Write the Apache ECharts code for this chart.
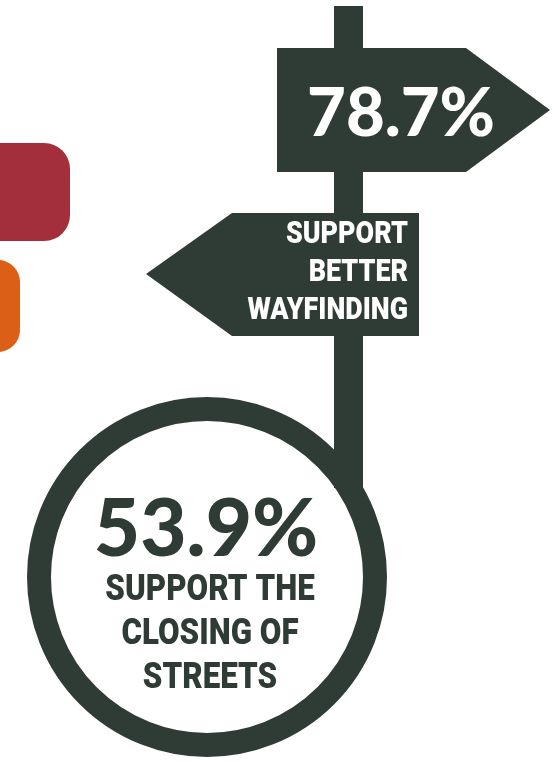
<!DOCTYPE html>
<html>
<head>
<meta charset="utf-8">
<script src="https://cdn.jsdelivr.net/npm/echarts@6/dist/echarts.min.js"></script>
<style>
  html, body { margin: 0; padding: 0; background: #ffffff; }
  #chart { width: 556px; height: 762px; }
</style>
</head>
<body>
<div id="chart"></div>
<script>
// Survey results shown on the signpost
const percentages = [78.7, 53.9];
const signCaptions = [
  ['SUPPORT', 'BETTER', 'WAYFINDING'],
  ['SUPPORT THE', 'CLOSING OF', 'STREETS']
];
const accentColors = ['#a22f39', '#db5f17'];

const INK = '#2f3c35';
const NUM_FONT = "Lato, 'Open Sans', sans-serif";
const CAP_FONT = "Roboto, 'Liberation Sans', sans-serif";

function fmt(v) { return v.toFixed(1) + '%'; }

const chart = echarts.init(document.getElementById('chart'), null, { renderer: 'canvas' });

const elements = [
  // accent tabs at the left edge
  { type: 'rect', shape: { x: -40, y: 143, width: 110, height: 98, r: 26 }, style: { fill: accentColors[0] } },
  { type: 'rect', shape: { x: -40, y: 260, width: 60, height: 92, r: 22 }, style: { fill: accentColors[1] } },
  // post
  { type: 'rect', shape: { x: 334, y: 6, width: 29, height: 482 }, style: { fill: INK } },
  // ring at the foot of the post
  { type: 'circle', shape: { cx: 207, cy: 577, r: 168 }, style: { fill: 'none', stroke: INK, lineWidth: 24 } },
  // right-pointing sign
  { type: 'polygon', shape: { points: [[277, 48], [466, 48], [550, 110], [466, 172], [277, 172]] }, style: { fill: INK } },
  // left-pointing sign
  { type: 'polygon', shape: { points: [[419, 213], [419, 336], [232, 336], [146, 274], [232, 213]] }, style: { fill: INK } },
  // value on the right-pointing sign
  { type: 'text', x: 401, y: 114, style: { text: fmt(percentages[0]), fill: '#ffffff', font: '900 67px ' + NUM_FONT, align: 'center', verticalAlign: 'middle' } },
  // value inside the ring
  { type: 'text', x: 206, y: 530, style: { text: fmt(percentages[1]), fill: INK, font: '900 80px ' + NUM_FONT, align: 'center', verticalAlign: 'middle' } }
];

// caption on the left-pointing sign, right-aligned and condensed
signCaptions[0].forEach(function (line, i) {
  elements.push({ type: 'text', x: 408, y: 235 + i * 38, scaleX: 0.84,
    style: { text: line, fill: '#ffffff', font: '900 32px ' + CAP_FONT, align: 'right', verticalAlign: 'middle' } });
});
// caption inside the ring
signCaptions[1].forEach(function (line, i) {
  elements.push({ type: 'text', x: 210, y: 591 + i * 44, scaleX: 0.87,
    style: { text: line, fill: INK, font: '900 36px ' + CAP_FONT, align: 'center', verticalAlign: 'middle' } });
});

chart.setOption({
  backgroundColor: '#ffffff',
  animation: false,
  graphic: { elements: elements }
});
</script>
</body>
</html>
